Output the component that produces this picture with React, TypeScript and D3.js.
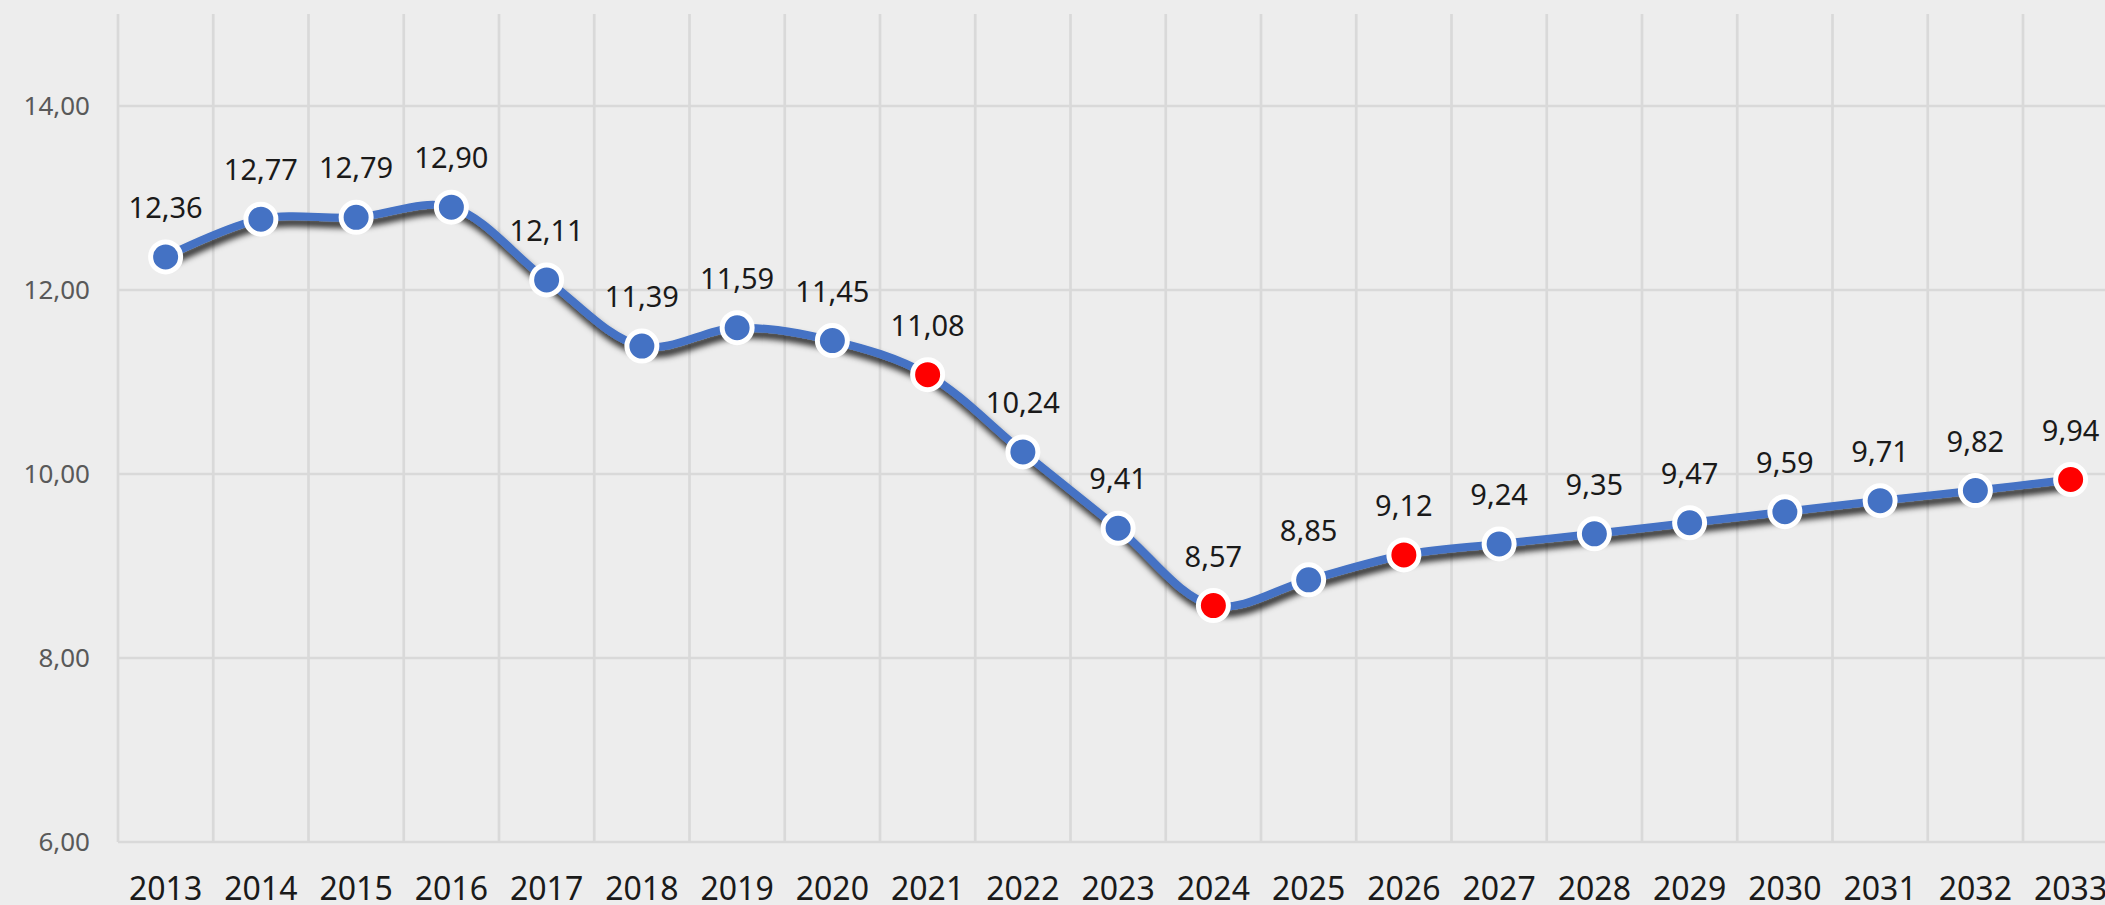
import React from "react";
import * as d3 from "d3";

const years = ["2013","2014","2015","2016","2017","2018","2019","2020","2021","2022","2023","2024","2025","2026","2027","2028","2029","2030","2031","2032","2033"];
const values = [12.36,12.77,12.79,12.90,12.11,11.39,11.59,11.45,11.08,10.24,9.41,8.57,8.85,9.12,9.24,9.35,9.47,9.59,9.71,9.82,9.94];
const highlighted = ["2021","2024","2026","2033"];
const yTicks = [6,8,10,12,14];

const W = 2105, H = 905;
const left = 118, bandW = 95.25, top = 14, bottom = 842;
const font = "'Noto Sans', sans-serif";
const fmt = (v: number) => v.toFixed(2).replace(".", ",");

export default function App() {
  const x = d3.scaleBand<string>().domain(years).range([left, left + bandW * years.length]).padding(0);
  const y = d3.scaleLinear().domain([6, 15]).range([bottom, top]);
  const cx = (yr: string) => (x(yr) as number) + x.bandwidth() / 2;
  const pts: [number, number][] = years.map((yr, i) => [cx(yr), y(values[i])]);
  const line = d3.line().curve(d3.curveCatmullRom.alpha(0.5))(pts) as string;
  const edges = d3.range(years.length + 1).map(i => left + i * x.bandwidth());

  return (
    <svg width={W} height={H} style={{ position: "absolute", left: 0, top: 0, display: "block" }}>
      <defs>
        <filter id="sh" x="-10%" y="-20%" width="120%" height="140%">
          <feDropShadow dx="2" dy="6" stdDeviation="3" floodColor="#000" floodOpacity="0.85" />
        </filter>
      </defs>
      <rect x={0} y={0} width={W} height={H} fill="#EDEDED" />
      {yTicks.map(t => (
        <line key={"h" + t} x1={left} x2={W + 50} y1={y(t)} y2={y(t)} stroke="#D9D9D9" strokeWidth={2.7} />
      ))}
      {edges.map((e, i) => (
        <line key={"v" + i} x1={e} x2={e} y1={top} y2={bottom} stroke="#D9D9D9" strokeWidth={2.7} />
      ))}
      {yTicks.map(t => (
        <text key={"yl" + t} x={90} y={y(t)} dy="0.35em" textAnchor="end" fontFamily={font} fontSize={26} fill="#595959">
          {fmt(t)}
        </text>
      ))}
      {years.map(yr => (
        <text key={"xl" + yr} x={cx(yr)} y={900} textAnchor="middle" fontFamily={font} fontSize={32} fill="#1a1a1a">
          {yr}
        </text>
      ))}
      <path d={line} fill="none" stroke="#4472C4" strokeWidth={8} strokeLinecap="round" filter="url(#sh)" />
      {years.map((yr, i) => (
        <circle key={"c" + yr} cx={pts[i][0]} cy={pts[i][1]} r={15} fill={highlighted.includes(yr) ? "#FF0000" : "#4472C4"} stroke="#fff" strokeWidth={5} />
      ))}
      {years.map((yr, i) => (
        <text key={"dl" + yr} x={pts[i][0]} y={pts[i][1] - 39} textAnchor="middle" fontFamily={font} fontSize={29} fill="#1a1a1a">
          {fmt(values[i])}
        </text>
      ))}
    </svg>
  );
}
